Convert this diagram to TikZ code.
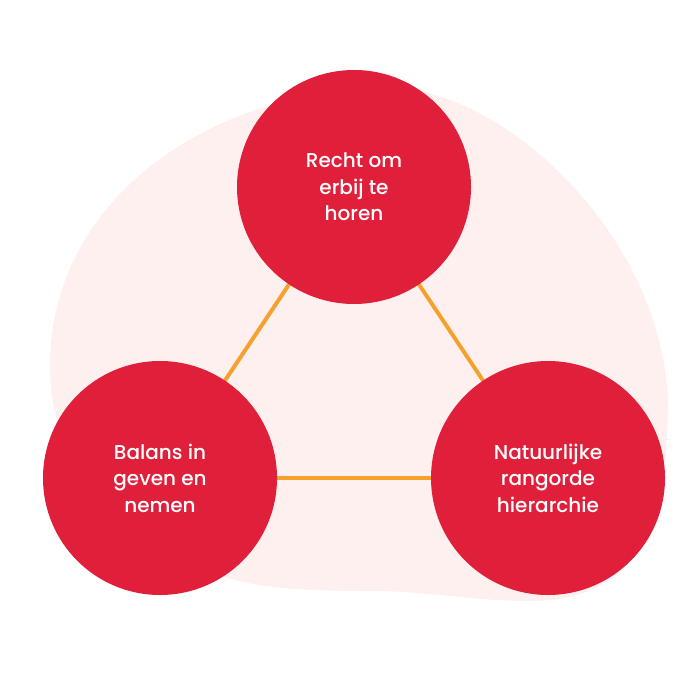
\documentclass[tikz,border=0pt]{standalone}
\usepackage{fontspec}
\setmainfont{Poppins}[UprightFont={* Medium}]
\definecolor{circred}{HTML}{E01F3A}
\definecolor{blobpink}{HTML}{FEF0EF}
\definecolor{linkorange}{HTML}{F5A12E}
\begin{document}
\begin{tikzpicture}[x=1pt,y=-1pt,
  bubble/.style={circle,fill=circred,minimum size=234pt,inner sep=0pt,
    text=white,align=center,font=\fontsize{20}{26.5}\selectfont},
  link/.style={draw=linkorange,line width=4pt}]
\useasboundingbox (0,0) rectangle (700,700);
\fill[blobpink] (50,365) .. controls (50,200) and (210,88) .. (390,88)
  .. controls (500,88) and (660,230) .. (668,400)
  .. controls (668,520) and (640,601) .. (530,601)
  .. controls (470,601) and (430,591) .. (370,591)
  .. controls (300,591) and (250,588) .. (210,572)
  .. controls (120,540) and (50,470) .. (50,365) -- cycle;
\coordinate (ct) at (354,187);
\coordinate (cl) at (160,478);
\coordinate (cr) at (548,478);
\draw[link] (ct) -- (cl);
\draw[link] (ct) -- (cr);
\draw[link] (cl) -- (cr);
\node[bubble] (top) at (ct) {Recht om\\erbij te\\horen};
\node[bubble] (left) at (cl) {Balans in\\geven en\\nemen};
\node[bubble] (right) at (cr) {Natuurlijke\\rangorde\\hierarchie};
\end{tikzpicture}
\end{document}
